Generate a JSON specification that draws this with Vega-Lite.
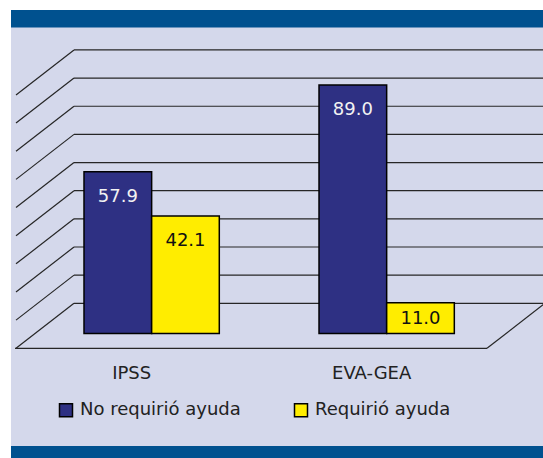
{
  "$schema": "https://vega.github.io/schema/vega-lite/v6.json",
  "width": 532,
  "height": 448,
  "autosize": {"type": "none"},
  "padding": {"left": 11, "top": 10, "right": 0, "bottom": 0},
  "background": "white",
  "config": {"view": {"fill": "#d4d8eb", "stroke": null}, "font": "DejaVu Sans"},
  "datasets": {
    "barras": [
      {"grupo": "IPSS", "serie": "No requirió ayuda", "valor": 57.9},
      {"grupo": "IPSS", "serie": "Requirió ayuda", "valor": 42.1},
      {"grupo": "EVA-GEA", "serie": "No requirió ayuda", "valor": 89.0},
      {"grupo": "EVA-GEA", "serie": "Requirió ayuda", "valor": 11.0}
    ],
    "grid": [{"v": 0}, {"v": 10}, {"v": 20}, {"v": 30}, {"v": 40}, {"v": 50}, {"v": 60}, {"v": 70}, {"v": 80}, {"v": 90}],
    "marco": [{"parte": "marco"}]
  },
  "layer": [
    {
      "data": {"name": "marco"},
      "mark": {"type": "rect", "color": "#00518f"},
      "encoding": {
        "x": {"datum": 0, "type": "quantitative", "scale": {"domain": [0, 532], "nice": false, "zero": false}, "axis": null},
        "x2": {"datum": 532},
        "y": {"datum": 104.19, "type": "quantitative", "scale": {"domain": [-54.96, 104.19], "nice": false, "zero": false}, "axis": null},
        "y2": {"datum": 97.97}
      }
    },
    {
      "data": {"name": "marco"},
      "mark": {"type": "rect", "color": "#00518f"},
      "encoding": {
        "x": {"datum": 0, "type": "quantitative", "scale": {"domain": [0, 532], "nice": false, "zero": false}, "axis": null},
        "x2": {"datum": 532},
        "y": {"datum": -50.69, "type": "quantitative", "scale": {"domain": [-54.96, 104.19], "nice": false, "zero": false}, "axis": null},
        "y2": {"datum": -54.96}
      }
    },
    {
      "data": {"name": "grid"},
      "mark": {"type": "rule", "color": "#262626", "strokeWidth": 1.2},
      "encoding": {
        "x": {"datum": 63, "type": "quantitative", "scale": {"domain": [0, 532], "nice": false, "zero": false}, "axis": null},
        "x2": {"datum": 532},
        "y": {"field": "v", "type": "quantitative", "scale": {"domain": [-54.96, 104.19], "nice": false, "zero": false}, "axis": null}
      }
    },
    {
      "data": {"name": "grid"},
      "mark": {"type": "rule", "color": "#262626", "strokeWidth": 1.2, "y2Offset": 45},
      "encoding": {
        "x": {"datum": 63, "type": "quantitative", "scale": {"domain": [0, 532], "nice": false, "zero": false}, "axis": null},
        "x2": {"datum": 5},
        "y": {"field": "v", "type": "quantitative", "scale": {"domain": [-54.96, 104.19], "nice": false, "zero": false}, "axis": null},
        "y2": {"field": "v"}
      }
    },
    {
      "data": {"name": "marco"},
      "mark": {"type": "rule", "color": "#262626", "strokeWidth": 1.2, "yOffset": 45, "y2Offset": 45},
      "encoding": {
        "x": {"datum": 4, "type": "quantitative", "scale": {"domain": [0, 532], "nice": false, "zero": false}, "axis": null},
        "x2": {"datum": 476},
        "y": {"datum": 0, "type": "quantitative", "scale": {"domain": [-54.96, 104.19], "nice": false, "zero": false}, "axis": null},
        "y2": {"datum": 0}
      }
    },
    {
      "data": {"name": "marco"},
      "mark": {"type": "rule", "color": "#262626", "strokeWidth": 1.2, "yOffset": 45},
      "encoding": {
        "x": {"datum": 476, "type": "quantitative", "scale": {"domain": [0, 532], "nice": false, "zero": false}, "axis": null},
        "x2": {"datum": 534},
        "y": {"datum": 0, "type": "quantitative", "scale": {"domain": [-54.96, 104.19], "nice": false, "zero": false}, "axis": null},
        "y2": {"datum": 0}
      }
    },
    {
      "data": {"name": "barras"},
      "mark": {"type": "bar", "stroke": "black", "strokeWidth": 1.5},
      "encoding": {
        "x": {
          "field": "grupo", "type": "nominal",
          "scale": {"type": "band", "domain": ["IPSS", "EVA-GEA"], "paddingInner": 0.4243, "paddingOuter": 0.344, "align": 0.4515},
          "axis": {"orient": "bottom", "offset": -94, "labelOffset": {"expr": "datum.value === 'IPSS' ? -20 : -15"}, "ticks": false, "domain": false, "grid": false, "title": null, "labelAngle": 0, "labelPadding": 0, "labelFontSize": 18, "labelFont": "DejaVu Sans", "labelColor": "#222222"}
        },
        "xOffset": {"field": "serie", "type": "nominal", "scale": {"type": "band", "domain": ["No requirió ayuda", "Requirió ayuda"], "paddingInner": 0, "paddingOuter": 0}},
        "y": {"field": "valor", "type": "quantitative", "scale": {"domain": [-44.59, 115.87], "nice": false, "zero": false}, "axis": null},
        "y2": {"datum": 0},
        "fill": {
          "field": "serie", "type": "nominal",
          "scale": {"domain": ["No requirió ayuda", "Requirió ayuda"], "range": ["#2e3083", "#ffed00"]},
          "legend": {"orient": "none", "legendX": 46, "legendY": 391, "direction": "horizontal", "title": null, "symbolType": "square", "symbolSize": 169, "symbolStrokeColor": "black", "symbolStrokeWidth": 1.5, "labelFontSize": 18, "labelFont": "DejaVu Sans", "labelColor": "#222222", "labelLimit": 300, "columnPadding": 50, "labelOffset": 5, "padding": 0}
        }
      }
    },
    {
      "data": {"name": "barras"},
      "transform": [{"filter": "datum.valor >= 20"}],
      "mark": {"type": "text", "fontSize": 18, "font": "DejaVu Sans", "baseline": "middle", "align": "center", "dy": 25},
      "encoding": {
        "x": {"field": "grupo", "type": "nominal", "bandPosition": 0, "scale": {"type": "band", "domain": ["IPSS", "EVA-GEA"], "paddingInner": 0.4243, "paddingOuter": 0.344, "align": 0.4515}, "axis": null},
        "xOffset": {"field": "serie", "type": "nominal", "scale": {"type": "band", "domain": ["No requirió ayuda", "Requirió ayuda"], "paddingInner": 0, "paddingOuter": 0}},
        "y": {"field": "valor", "type": "quantitative", "scale": {"domain": [-44.59, 115.87], "nice": false, "zero": false}, "axis": null},
        "text": {"field": "valor", "type": "quantitative", "format": ".1f"},
        "color": {"condition": {"test": "datum.serie === 'No requirió ayuda'", "value": "#f2f2f2"}, "value": "#111111"}
      }
    },
    {
      "data": {"name": "barras"},
      "transform": [{"filter": "datum.valor < 20"}],
      "mark": {"type": "text", "fontSize": 18, "font": "DejaVu Sans", "baseline": "middle", "align": "center", "dy": 16},
      "encoding": {
        "x": {"field": "grupo", "type": "nominal", "bandPosition": 0, "scale": {"type": "band", "domain": ["IPSS", "EVA-GEA"], "paddingInner": 0.4243, "paddingOuter": 0.344, "align": 0.4515}, "axis": null},
        "xOffset": {"field": "serie", "type": "nominal", "scale": {"type": "band", "domain": ["No requirió ayuda", "Requirió ayuda"], "paddingInner": 0, "paddingOuter": 0}},
        "y": {"field": "valor", "type": "quantitative", "scale": {"domain": [-44.59, 115.87], "nice": false, "zero": false}, "axis": null},
        "text": {"field": "valor", "type": "quantitative", "format": ".1f"},
        "color": {"condition": {"test": "datum.serie === 'No requirió ayuda'", "value": "#f2f2f2"}, "value": "#111111"}
      }
    }
  ],
  "resolve": {"scale": {"x": "independent", "y": "independent", "xOffset": "independent", "color": "independent", "fill": "independent"}}
}
